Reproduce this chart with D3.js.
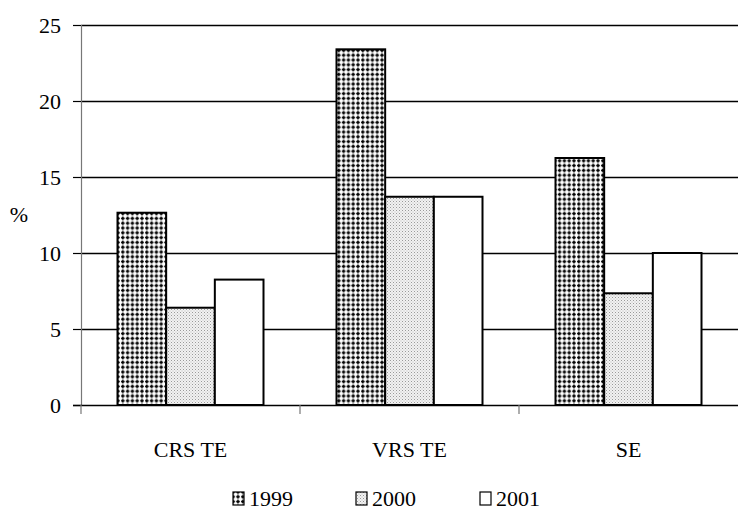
<!DOCTYPE html>
<html><head><meta charset="utf-8">
<script src="https://cdn.jsdelivr.net/npm/d3@7"></script>
</head><body style="margin:0;background:#fff"><svg id="c" width="738" height="512" font-family="Liberation Serif" style="display:block"></svg>
<script>
const categories = ["CRS TE", "VRS TE", "SE"];
const seriesNames = ["1999", "2000", "2001"];
const v1999 = [12.65, 23.4, 16.25];
const v2000 = [6.4, 13.7, 7.35];
const v2001 = [8.25, 13.7, 10.0];
const yTicks = [0, 5, 10, 15, 20, 25];

const FONT = "Liberation Serif";
const FSZ = 22;
const values = [v1999, v2000, v2001];
const svg = d3.select("#c");
const defs = svg.append("defs");
const p1 = defs.append("pattern").attr("id","p1999").attr("patternUnits","userSpaceOnUse").attr("width",4.8).attr("height",4.8);
p1.append("rect").attr("width",4.8).attr("height",4.8).attr("fill","#fff");
p1.append("rect").attr("x",1).attr("y",1.6).attr("width",3.6).attr("height",1.6).attr("fill","#000");
p1.append("rect").attr("x",2).attr("y",0.6).attr("width",1.6).attr("height",3.6).attr("fill","#000");
const p2 = defs.append("pattern").attr("id","p2000").attr("patternUnits","userSpaceOnUse").attr("width",3).attr("height",3);
p2.append("rect").attr("width",3).attr("height",3).attr("fill","#f2f2f2");
p2.append("rect").attr("x",0).attr("y",0).attr("width",1).attr("height",1).attr("fill","#9a9a9a");
p2.append("rect").attr("x",1.5).attr("y",1.5).attr("width",1).attr("height",1).attr("fill","#bdbdbd");
const fills = ["url(#p1999)", "url(#p2000)", "#fff"];

const m = {l:81, r:738, t:25, b:405};
const x0 = d3.scaleBand().domain(categories).range([m.l, m.r]).paddingInner(0).paddingOuter(0);
const bw = x0.bandwidth()/4.5;
const x1 = d3.scaleBand().domain(seriesNames).range([0, bw*3]);
const y = d3.scaleLinear().domain([0,25]).range([m.b, m.t]);

svg.append("g").selectAll("line").data(yTicks.filter(d=>d>0)).join("line")
  .attr("x1",m.l).attr("x2",m.r).attr("y1",d=>Math.round(y(d))+0.5).attr("y2",d=>Math.round(y(d))+0.5)
  .attr("stroke","#000").attr("stroke-width",1.3);

function txt(sel){ sel.attr("font-family", FONT).attr("font-size", FSZ).attr("fill","#000"); }

const ya = svg.append("g").attr("transform",`translate(${m.l},0)`)
  .call(d3.axisLeft(y).tickValues(yTicks).tickSize(8).tickPadding(12));
ya.attr("font-family", FONT).attr("font-size", FSZ);
ya.select(".domain").attr("stroke","#777").attr("stroke-width",1.2);
ya.selectAll(".tick line").attr("stroke","#000").attr("stroke-width",1.2);
ya.selectAll("text").call(txt);

svg.append("text").attr("x",19).attr("y",222).attr("text-anchor","middle").call(txt).text("%");

const g = svg.append("g");
categories.forEach((c,ci)=>{
  seriesNames.forEach((s,si)=>{
    const v = values[si][ci];
    const xx = x0(c) + (x0.bandwidth()-bw*3)/2 + x1(s);
    g.append("rect").attr("x",xx).attr("y",y(v)).attr("width",x1.bandwidth()).attr("height",y(0)-y(v))
      .attr("fill",fills[si]).attr("stroke","#000").attr("stroke-width",2);
  });
});

const xa = svg.append("g").attr("transform",`translate(0,${m.b})`)
  .call(d3.axisBottom(x0).tickSize(0).tickPadding(0));
xa.attr("font-family", FONT).attr("font-size", FSZ);
xa.select(".domain").attr("stroke","#000").attr("stroke-width",1.3).attr("d",`M${m.l-8},0.5H${m.r}`);
xa.selectAll("text").call(txt).attr("y",52).attr("dy",0);
svg.append("g").selectAll("line").data(categories.map(c=>x0(c))).join("line")
  .attr("x1",d=>d).attr("x2",d=>d).attr("y1",m.b).attr("y2",m.b+9).attr("stroke","#777").attr("stroke-width",1.2);

const lx = [233, 356, 480];
const lg = svg.append("g");
seriesNames.forEach((s,i)=>{
  lg.append("rect").attr("x",lx[i]).attr("y",492).attr("width",11).attr("height",13)
    .attr("fill",fills[i]).attr("stroke","#000").attr("stroke-width",1.2);
  lg.append("text").attr("x",lx[i]+16).attr("y",506).call(txt).text(s);
});
</script></body></html>
